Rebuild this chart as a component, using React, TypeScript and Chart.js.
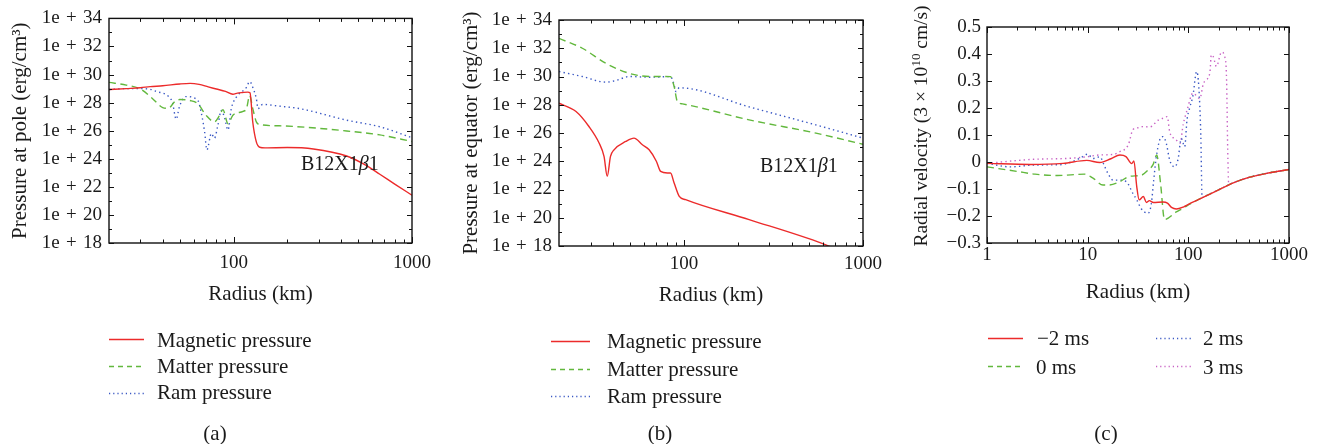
import React, { useEffect, useRef } from "react";
import { Chart, registerables } from "chart.js";

Chart.register(...registerables);

const FONT = '"Liberation Serif", "Times New Roman", Times, serif';
const INK = "#1a1a1a";
const RED = "#ec2b2b";
const GREEN = "#62b83d";
const BLUE = "#3a58c4";
const MAGENTA = "#c862c4";
const DASH_MATTER = [7, 4.5];
const DOT = [1.4, 3.2];

// ---------------- Panel (a): pressure at pole (log10 of erg/cm^3) ----------------
const aRadiusMagnetic = [20, 25, 30, 34, 40, 50, 57, 64, 72, 80, 90, 99, 105, 112, 120, 123.5, 128, 134, 140, 150, 200, 280, 430, 550, 660, 800, 1000];
const aLogMagnetic = [28.93, 29.0, 29.06, 29.14, 29.2, 29.33, 29.37, 29.3, 29.12, 28.97, 28.8, 28.6, 28.68, 28.72, 28.75, 28.7, 26.6, 25.2, 24.82, 24.78, 24.8, 24.7, 24.2, 23.55, 22.9, 22.2, 21.4];

const aRadiusMatter = [20, 25, 30, 35, 40, 43, 47, 50, 57, 63, 70, 78, 83.5, 87, 93, 99, 113, 118, 123, 128, 134, 140, 180, 250, 430, 660, 1000];
const aLogMatter = [29.44, 29.25, 28.97, 28.3, 27.65, 27.6, 28.1, 28.22, 28.15, 27.92, 27.1, 26.63, 27.1, 27.5, 26.5, 27.1, 27.38, 27.57, 28.5, 27.57, 26.63, 26.44, 26.35, 26.25, 25.98, 25.7, 25.23];

const aRadiusRam = [20, 25, 30, 34, 37, 43, 45.4, 47.6, 49.7, 54, 63, 66, 68.7, 70.8, 75, 78, 81.6, 85.3, 89, 93, 97, 103.5, 118, 123, 129, 134, 137, 145, 180, 235, 430, 660, 1000];
const aLogRam = [28.93, 29.0, 29.0, 28.95, 28.79, 28.46, 28.0, 26.82, 27.73, 28.43, 28.15, 27.2, 25.93, 24.64, 25.8, 25.46, 26.4, 27.45, 26.9, 26.05, 27.57, 28.39, 29.09, 29.5, 28.97, 28.3, 27.57, 27.87, 27.75, 27.57, 26.75, 26.28, 25.5];

// ---------------- Panel (b): pressure at equator (log10 of erg/cm^3) ----------------
const bRadiusMagnetic = [20, 24.9, 29.4, 33.5, 35.7, 37.2, 38.8, 40.6, 47.2, 52.5, 58.5, 63.8, 70, 74, 80.6, 84, 88, 94, 102, 231, 595, 700];
const bLogMagnetic = [28.11, 27.52, 26.46, 25.29, 24.34, 22.93, 24.34, 24.81, 25.4, 25.64, 25.17, 24.81, 24.0, 23.28, 23.17, 23.17, 22.46, 21.51, 21.28, 19.87, 18.17, 17.8];

const bRadiusMatter = [20, 27, 36.5, 47.3, 58.2, 70, 84, 88, 91.7, 98, 231, 546, 1000];
const bLogMatter = [32.7, 32.0, 30.94, 30.3, 30.04, 30.0, 29.99, 29.29, 28.23, 28.06, 26.93, 25.99, 25.2];

const bRadiusRam = [20, 27, 36.5, 41.5, 49.4, 63.7, 84, 88, 90, 94, 231, 546, 1000];
const bLogRam = [30.35, 30.0, 29.6, 29.71, 30.0, 29.95, 29.99, 29.4, 28.93, 29.2, 27.85, 26.57, 25.64];

// ---------------- Panel (c): radial velocity (units of 3e10 cm/s) ----------------
const cRadiusM2 = [1, 2.7, 5.7, 9.8, 13.2, 17, 20.9, 24, 27.4, 28.8, 30.7, 32.5, 35.7, 38.4, 41, 45, 56, 62, 68, 76, 90, 100, 130, 200, 280, 400, 600, 1000];
const cVelM2 = [-0.005, -0.009, -0.005, 0.006, -0.002, 0.012, 0.026, 0.02, -0.006, 0.004, -0.09, -0.14, -0.128, -0.15, -0.143, -0.15, -0.148, -0.152, -0.168, -0.174, -0.166, -0.157, -0.137, -0.103, -0.077, -0.057, -0.042, -0.028];

const cRadius0 = [1, 2, 3, 5, 9.3, 11.3, 14.2, 16.5, 20.8, 26.1, 34.1, 39.8, 44.6, 48.5, 53, 58, 76, 90, 103, 130, 200, 280, 400, 600, 1000];
const cVel0 = [-0.018, -0.035, -0.045, -0.05, -0.045, -0.06, -0.085, -0.085, -0.073, -0.053, -0.049, -0.03, -0.01, 0.026, -0.08, -0.213, -0.185, -0.17, -0.156, -0.137, -0.103, -0.077, -0.057, -0.042, -0.028];

const cRadius2 = [1, 1.7, 3, 5.3, 8.3, 10, 11.3, 13.2, 14.8, 15.9, 17.9, 20.8, 24.2, 28.2, 30.9, 34.1, 39.8, 42.9, 45.3, 48.1, 51.9, 56, 60.4, 65.3, 73.2, 79, 85.2, 92, 97, 103, 111, 121, 127, 133, 137, 150, 200, 280, 400, 600, 1000];
const cVel2 = [-0.005, -0.018, -0.011, -0.01, 0.013, 0.029, 0.013, 0.019, -0.018, -0.042, -0.067, -0.067, -0.073, -0.117, -0.142, -0.173, -0.19, -0.154, -0.067, 0.019, 0.081, 0.094, 0.069, 0.007, -0.018, 0.01, 0.087, 0.057, 0.156, 0.2, 0.245, 0.335, 0.28, 0.1, -0.132, -0.125, -0.103, -0.077, -0.057, -0.042, -0.028];

const cRadius3 = [1, 2.9, 6.1, 9.7, 13.2, 18, 20.8, 25.3, 28.2, 31.8, 35.3, 41.6, 50.2, 56, 61.7, 65.3, 73.6, 76, 82.6, 89, 97.7, 111, 130, 141, 151, 164, 169, 177, 190, 214, 230, 240, 246, 252, 280, 400, 600, 1000];
const cVel3 = [-0.005, 0.01, 0.013, 0.019, 0.026, 0.028, 0.038, 0.063, 0.12, 0.127, 0.131, 0.13, 0.155, 0.162, 0.168, 0.112, 0.085, 0.081, 0.069, 0.14, 0.195, 0.255, 0.235, 0.29, 0.304, 0.334, 0.397, 0.39, 0.354, 0.407, 0.39, 0.3, 0.05, -0.083, -0.077, -0.057, -0.042, -0.028];

// ---------------- ticks ----------------
const pressureXTicks = [100, 1000];
const pressureYTickExponents = [18, 20, 22, 24, 26, 28, 30, 32, 34];
const velocityXTicks = [1, 10, 100, 1000];
const velocityYTicks = [-0.3, -0.2, -0.1, 0, 0.1, 0.2, 0.3, 0.4, 0.5];
const velocityYTickLabels = ["\u22120.3", "\u22120.2", "\u22120.1", "0", "0.1", "0.2", "0.3", "0.4", "0.5"];

function minorLogTicks(lo: number, hi: number): number[] {
  const out: number[] = [];
  for (let d = Math.floor(Math.log10(lo)); d < Math.ceil(Math.log10(hi)); d++) {
    for (let m = 2; m <= 9; m++) {
      const v = m * Math.pow(10, d);
      if (v > lo && v < hi) out.push(v);
    }
  }
  return out;
}

const framePlugin = {
  id: "frame",
  afterDatasetsDraw(chart: any, _args: any, opts: any) {
    const { ctx, chartArea: a, scales } = chart;
    const xs = scales.x;
    const ys = scales.y;
    ctx.save();
    ctx.strokeStyle = "#111";
    ctx.lineWidth = 1;
    ctx.beginPath();
    const xt = (vals: number[], len: number) => {
      for (const v of vals) {
        const p = Math.round(xs.getPixelForValue(v)) + 0.5;
        ctx.moveTo(p, a.bottom);
        ctx.lineTo(p, a.bottom - len);
        ctx.moveTo(p, a.top);
        ctx.lineTo(p, a.top + len);
      }
    };
    const yt = (vals: number[], len: number) => {
      for (const v of vals) {
        const p = Math.round(ys.getPixelForValue(v)) + 0.5;
        ctx.moveTo(a.left, p);
        ctx.lineTo(a.left + len, p);
        ctx.moveTo(a.right, p);
        ctx.lineTo(a.right - len, p);
      }
    };
    xt(opts.xMajor, 6);
    xt(opts.xMinor, 3.5);
    yt(opts.yMajor, 5);
    yt(opts.yMinor, 3);
    ctx.stroke();
    ctx.lineWidth = 1.4;
    ctx.strokeRect(a.left, a.top, a.right - a.left, a.bottom - a.top);
    ctx.restore();
  },
};

function series(label: string, xs: number[], ys: number[], color: string, dash: number[], log: boolean) {
  return {
    label,
    data: xs.map((x, i) => ({ x, y: log ? Math.pow(10, ys[i]) : ys[i] })),
    borderColor: color,
    borderWidth: 1.4,
    borderDash: dash,
    pointRadius: 0,
    fill: false,
    cubicInterpolationMode: "monotone",
  };
}

type PanelGeom = {
  height: number;
  top: number;
  bottom: number;
  right: number;
  yWidth: number;
  yTitlePad: number;
  xTickPad: number;
  xTitlePad: number;
  yTickPad: number;
};

const SP = "\u2004";

function pressureConfig(datasets: any[], yTitle: string, g: PanelGeom) {
  const yAll: number[] = [];
  for (let k = 18; k <= 34; k++) yAll.push(Math.pow(10, k));
  return {
    type: "line",
    data: { datasets },
    options: {
      responsive: false,
      animation: false,
      events: [],
      layout: { padding: { top: g.top, right: g.right, left: 0, bottom: 0 } },
      plugins: {
        legend: { display: false },
        tooltip: { enabled: false },
        frame: {
          xMajor: pressureXTicks,
          xMinor: minorLogTicks(20, 1000),
          yMajor: pressureYTickExponents.map((k) => Math.pow(10, k)),
          yMinor: yAll,
        },
      },
      scales: {
        x: {
          type: "logarithmic",
          min: 20,
          max: 1000,
          afterBuildTicks: (s: any) => {
            s.ticks = pressureXTicks.map((v) => ({ value: v }));
          },
          afterFit: (s: any) => {
            s.height = g.height - g.bottom;
          },
          grid: { display: false, drawTicks: false },
          border: { display: false },
          ticks: {
            autoSkip: false,
            maxRotation: 0,
            padding: g.xTickPad,
            color: INK,
            font: { family: FONT, size: 19 },
            callback: (v: number) => String(v),
          },
          title: {
            display: true,
            text: "Radius (km)",
            color: INK,
            font: { family: FONT, size: 21 },
            padding: { top: 0, bottom: g.xTitlePad },
          },
        },
        y: {
          type: "logarithmic",
          min: 1e18,
          max: 1e34,
          afterBuildTicks: (s: any) => {
            s.ticks = pressureYTickExponents.map((k) => ({ value: Math.pow(10, k) }));
          },
          afterFit: (s: any) => {
            s.width = g.yWidth;
          },
          grid: { display: false, drawTicks: false },
          border: { display: false },
          ticks: {
            autoSkip: false,
            padding: g.yTickPad,
            color: INK,
            font: { family: FONT, size: 19 },
            callback: (v: number) => "1e" + SP + "+" + SP + Math.round(Math.log10(v)),
          },
          title: {
            display: true,
            text: yTitle,
            color: INK,
            font: { family: FONT, size: 21 },
            padding: { top: g.yTitlePad, bottom: 0 },
          },
        },
      },
    },
    plugins: [framePlugin],
  };
}

function velocityConfig(datasets: any[], g: PanelGeom) {
  return {
    type: "line",
    data: { datasets },
    options: {
      responsive: false,
      animation: false,
      events: [],
      layout: { padding: { top: g.top, right: g.right, left: 0, bottom: 0 } },
      plugins: {
        legend: { display: false },
        tooltip: { enabled: false },
        frame: {
          xMajor: velocityXTicks,
          xMinor: minorLogTicks(1, 1000),
          yMajor: velocityYTicks,
          yMinor: [],
        },
      },
      scales: {
        x: {
          type: "logarithmic",
          min: 1,
          max: 1000,
          afterBuildTicks: (s: any) => {
            s.ticks = velocityXTicks.map((v) => ({ value: v }));
          },
          afterFit: (s: any) => {
            s.height = g.height - g.bottom;
          },
          grid: { display: false, drawTicks: false },
          border: { display: false },
          ticks: {
            autoSkip: false,
            maxRotation: 0,
            padding: g.xTickPad,
            color: INK,
            font: { family: FONT, size: 19 },
            callback: (v: number) => String(v),
          },
          title: {
            display: true,
            text: "Radius (km)",
            color: INK,
            font: { family: FONT, size: 21 },
            padding: { top: 0, bottom: g.xTitlePad },
          },
        },
        y: {
          type: "linear",
          min: -0.3,
          max: 0.5,
          afterBuildTicks: (s: any) => {
            s.ticks = velocityYTicks.map((v) => ({ value: v }));
          },
          afterFit: (s: any) => {
            s.width = g.yWidth;
          },
          grid: { display: false, drawTicks: false },
          border: { display: false },
          ticks: {
            autoSkip: false,
            padding: g.yTickPad,
            color: INK,
            font: { family: FONT, size: 19 },
            callback: (_v: number, i: number) => velocityYTickLabels[i],
          },
          title: { display: false },
        },
      },
    },
    plugins: [framePlugin],
  };
}

function Panel(props: { left: number; width: number; height: number; make: () => any }) {
  const ref = useRef<HTMLCanvasElement | null>(null);
  useEffect(() => {
    const chart = new Chart(ref.current as HTMLCanvasElement, props.make());
    return () => chart.destroy();
  }, []);
  return (
    <canvas
      ref={ref}
      width={props.width}
      height={props.height}
      style={{ position: "absolute", left: props.left, top: 0, width: props.width, height: props.height }}
    />
  );
}

const geomA: PanelGeom = { height: 310, top: 15, bottom: 243, right: 28, yWidth: 109, yTitlePad: 8, xTickPad: 9, xTitlePad: 3, yTickPad: 7 };
const geomB: PanelGeom = { height: 310, top: 20, bottom: 246, right: 27, yWidth: 109, yTitlePad: 9, xTickPad: 7, xTitlePad: 2, yTickPad: 7 };
const geomC: PanelGeom = { height: 310, top: 27, bottom: 243, right: 37, yWidth: 97, yTitlePad: 19, xTickPad: 1, xTitlePad: 5, yTickPad: 6 };

const makeA = () =>
  pressureConfig(
    [
      series("Magnetic pressure", aRadiusMagnetic, aLogMagnetic, RED, [], true),
      series("Matter pressure", aRadiusMatter, aLogMatter, GREEN, DASH_MATTER, true),
      series("Ram pressure", aRadiusRam, aLogRam, BLUE, DOT, true),
    ],
    "Pressure at pole (erg/cm\u00b3)",
    geomA
  );

const makeB = () =>
  pressureConfig(
    [
      series("Magnetic pressure", bRadiusMagnetic, bLogMagnetic, RED, [], true),
      series("Matter pressure", bRadiusMatter, bLogMatter, GREEN, DASH_MATTER, true),
      series("Ram pressure", bRadiusRam, bLogRam, BLUE, DOT, true),
    ],
    "Pressure at equator (erg/cm\u00b3)",
    geomB
  );

const makeC = () =>
  velocityConfig(
    [
      series("\u22122 ms", cRadiusM2, cVelM2, RED, [], false),
      series("0 ms", cRadius0, cVel0, GREEN, DASH_MATTER, false),
      series("2 ms", cRadius2, cVel2, BLUE, DOT, false),
      series("3 ms", cRadius3, cVel3, MAGENTA, DOT, false),
    ],
    geomC
  );

type LegendRow = { x1: number; x2: number; y: number; color: string; dash: string; text: string; tx: number; ty: number };

const legendRows: LegendRow[] = [
  { x1: 109, x2: 144, y: 339.5, color: RED, dash: "", text: "Magnetic pressure", tx: 157, ty: 340 },
  { x1: 109, x2: 144, y: 366.5, color: GREEN, dash: "5 4", text: "Matter pressure", tx: 157, ty: 366 },
  { x1: 109, x2: 144, y: 393.5, color: BLUE, dash: "1.2 3", text: "Ram pressure", tx: 157, ty: 392 },
  { x1: 551, x2: 590, y: 341.5, color: RED, dash: "", text: "Magnetic pressure", tx: 607, ty: 341 },
  { x1: 551, x2: 590, y: 369.5, color: GREEN, dash: "5 4", text: "Matter pressure", tx: 607, ty: 369 },
  { x1: 551, x2: 590, y: 396.5, color: BLUE, dash: "1.2 3", text: "Ram pressure", tx: 607, ty: 396 },
  { x1: 988, x2: 1023, y: 338.5, color: RED, dash: "", text: "\u22122 ms", tx: 1037, ty: 338 },
  { x1: 988, x2: 1023, y: 366.5, color: GREEN, dash: "5 4", text: "0 ms", tx: 1036, ty: 367 },
  { x1: 1156, x2: 1191, y: 338.5, color: BLUE, dash: "1.2 3", text: "2 ms", tx: 1203, ty: 338 },
  { x1: 1156, x2: 1191, y: 366.5, color: MAGENTA, dash: "1.2 3", text: "3 ms", tx: 1203, ty: 367 },
];

const captions = [
  { text: "(a)", x: 215, y: 433 },
  { text: "(b)", x: 660, y: 433 },
  { text: "(c)", x: 1106, y: 433 },
];

const textStyle: React.CSSProperties = {
  position: "absolute",
  fontFamily: FONT,
  fontSize: 21,
  lineHeight: "24px",
  height: 24,
  color: INK,
  whiteSpace: "nowrap",
};

function ModelLabel(props: { x: number; y: number }) {
  return (
    <div style={{ ...textStyle, fontSize: 20, left: props.x, top: props.y - 12 }}>
      B12X1<i>β</i>1
    </div>
  );
}

function VelocityTitle() {
  const w = 300;
  const cx = 921;
  const cy = 126;
  return (
    <div
      style={{
        ...textStyle,
        fontSize: 19.5,
        width: w,
        textAlign: "center",
        left: cx - w / 2,
        top: cy - 12,
        transform: "rotate(-90deg)",
        transformOrigin: "50% 50%",
      }}
    >
      Radial velocity (3 × 10
      <sup style={{ fontSize: 13, lineHeight: 0, verticalAlign: "0.55em" }}>10</sup> cm/s)
    </div>
  );
}

export default function App() {
  return (
    <div style={{ position: "absolute", left: 0, top: 0, width: 1326, height: 444, background: "#fff", overflow: "hidden" }}>
      <Panel left={0} width={440} height={310} make={makeA} />
      <Panel left={450} width={440} height={310} make={makeB} />
      <Panel left={890} width={436} height={310} make={makeC} />
      <VelocityTitle />
      <ModelLabel x={301} y={163} />
      <ModelLabel x={760} y={165} />
      <svg width={1326} height={444} style={{ position: "absolute", left: 0, top: 0, pointerEvents: "none" }}>
        {legendRows.map((r, i) => (
          <line key={i} x1={r.x1} x2={r.x2} y1={r.y} y2={r.y} stroke={r.color} strokeWidth={1.4} strokeDasharray={r.dash || undefined} />
        ))}
      </svg>
      {legendRows.map((r, i) => (
        <div key={"t" + i} style={{ ...textStyle, left: r.tx, top: r.ty - 12 }}>
          {r.text}
        </div>
      ))}
      {captions.map((c, i) => (
        <div key={"c" + i} style={{ ...textStyle, left: c.x - 30, width: 60, textAlign: "center", top: c.y - 12 }}>
          {c.text}
        </div>
      ))}
    </div>
  );
}
